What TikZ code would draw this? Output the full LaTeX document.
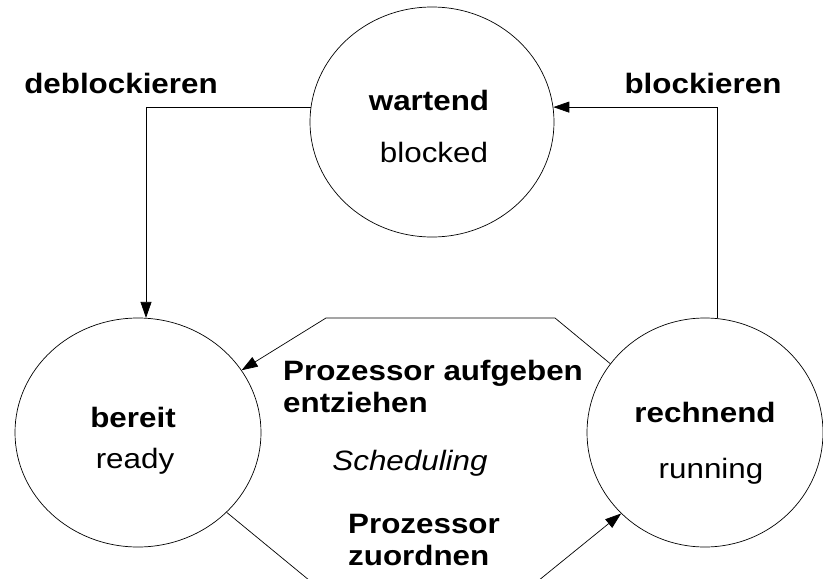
\documentclass[tikz,border=0pt]{standalone}
\usepackage{fontspec}
\setmainfont{Liberation Sans}[FakeStretch=1.12]
\usetikzlibrary{shapes.geometric,arrows.meta,calc}

\tikzset{
  state/.style={draw, ellipse, line width=0.7pt, inner sep=0pt},
  conn/.style={line width=0.7pt},
  arr/.style={conn, -{Triangle[length=16pt,width=11pt]}},
  lbl/.style={inner sep=0pt, anchor=base, font=\fontsize{28}{32}\selectfont},
  lblb/.style={lbl, font=\fontsize{28}{32}\selectfont\bfseries},
  lbli/.style={lbl, font=\fontsize{28}{32}\selectfont\itshape},
}

\begin{document}
\begin{tikzpicture}[x=1pt,y=-1pt]
\useasboundingbox (0,0) rectangle (823,579);
\clip (0,0) rectangle (823,579);

% process states
\node[state, minimum width=244pt, minimum height=230pt] (wartend) at (432,122) {};
\node[state, minimum width=246pt, minimum height=229pt] (bereit) at (138,432.5) {};
\node[state, minimum width=236pt, minimum height=229pt] (rechnend) at (705,432.5) {};

% state names
\node[lblb] (tw) at (429,110) {wartend};
\node[lbl]  (tb) at (434,162) {blocked};
\node[lblb] (rb) at (133,427) {bereit};
\node[lbl]  (rr) at (135,468) {ready};
\node[lblb] (nr) at (705,422) {rechnend};
\node[lbl]  (nu) at (711,478) {running};

% blocking transitions
\draw[arr] (wartend.173) -| (bereit.86);
\draw[arr] (rechnend.84) |- (wartend.7);

% scheduling transitions
\coordinate (t1) at (555,318);
\coordinate (t2) at (326,318);
\draw[arr] (rechnend.144) -- (t1) -- (t2) -- (bereit.31);

\coordinate (b1) at (315,585);
\coordinate (b2) at (533,585);
\draw[arr] (bereit.318) -- (b1) -- (b2) -- (rechnend.224);

% transition labels
\node[lblb] (ldb) at (121,93) {deblockieren};
\node[lblb] (lbk) at (703,93) {blockieren};
\node[lblb, anchor=base west] (lpa) at (283,380) {Prozessor aufgeben};
\node[lblb, anchor=base west] (lez) at (283,412) {entziehen};
\node[lbli] (lsc) at (410,470) {Scheduling};
\node[lblb, anchor=base west] (lpz) at (348,533) {Prozessor};
\node[lblb, anchor=base west] (lzu) at (348,565) {zuordnen};
\end{tikzpicture}
\end{document}
